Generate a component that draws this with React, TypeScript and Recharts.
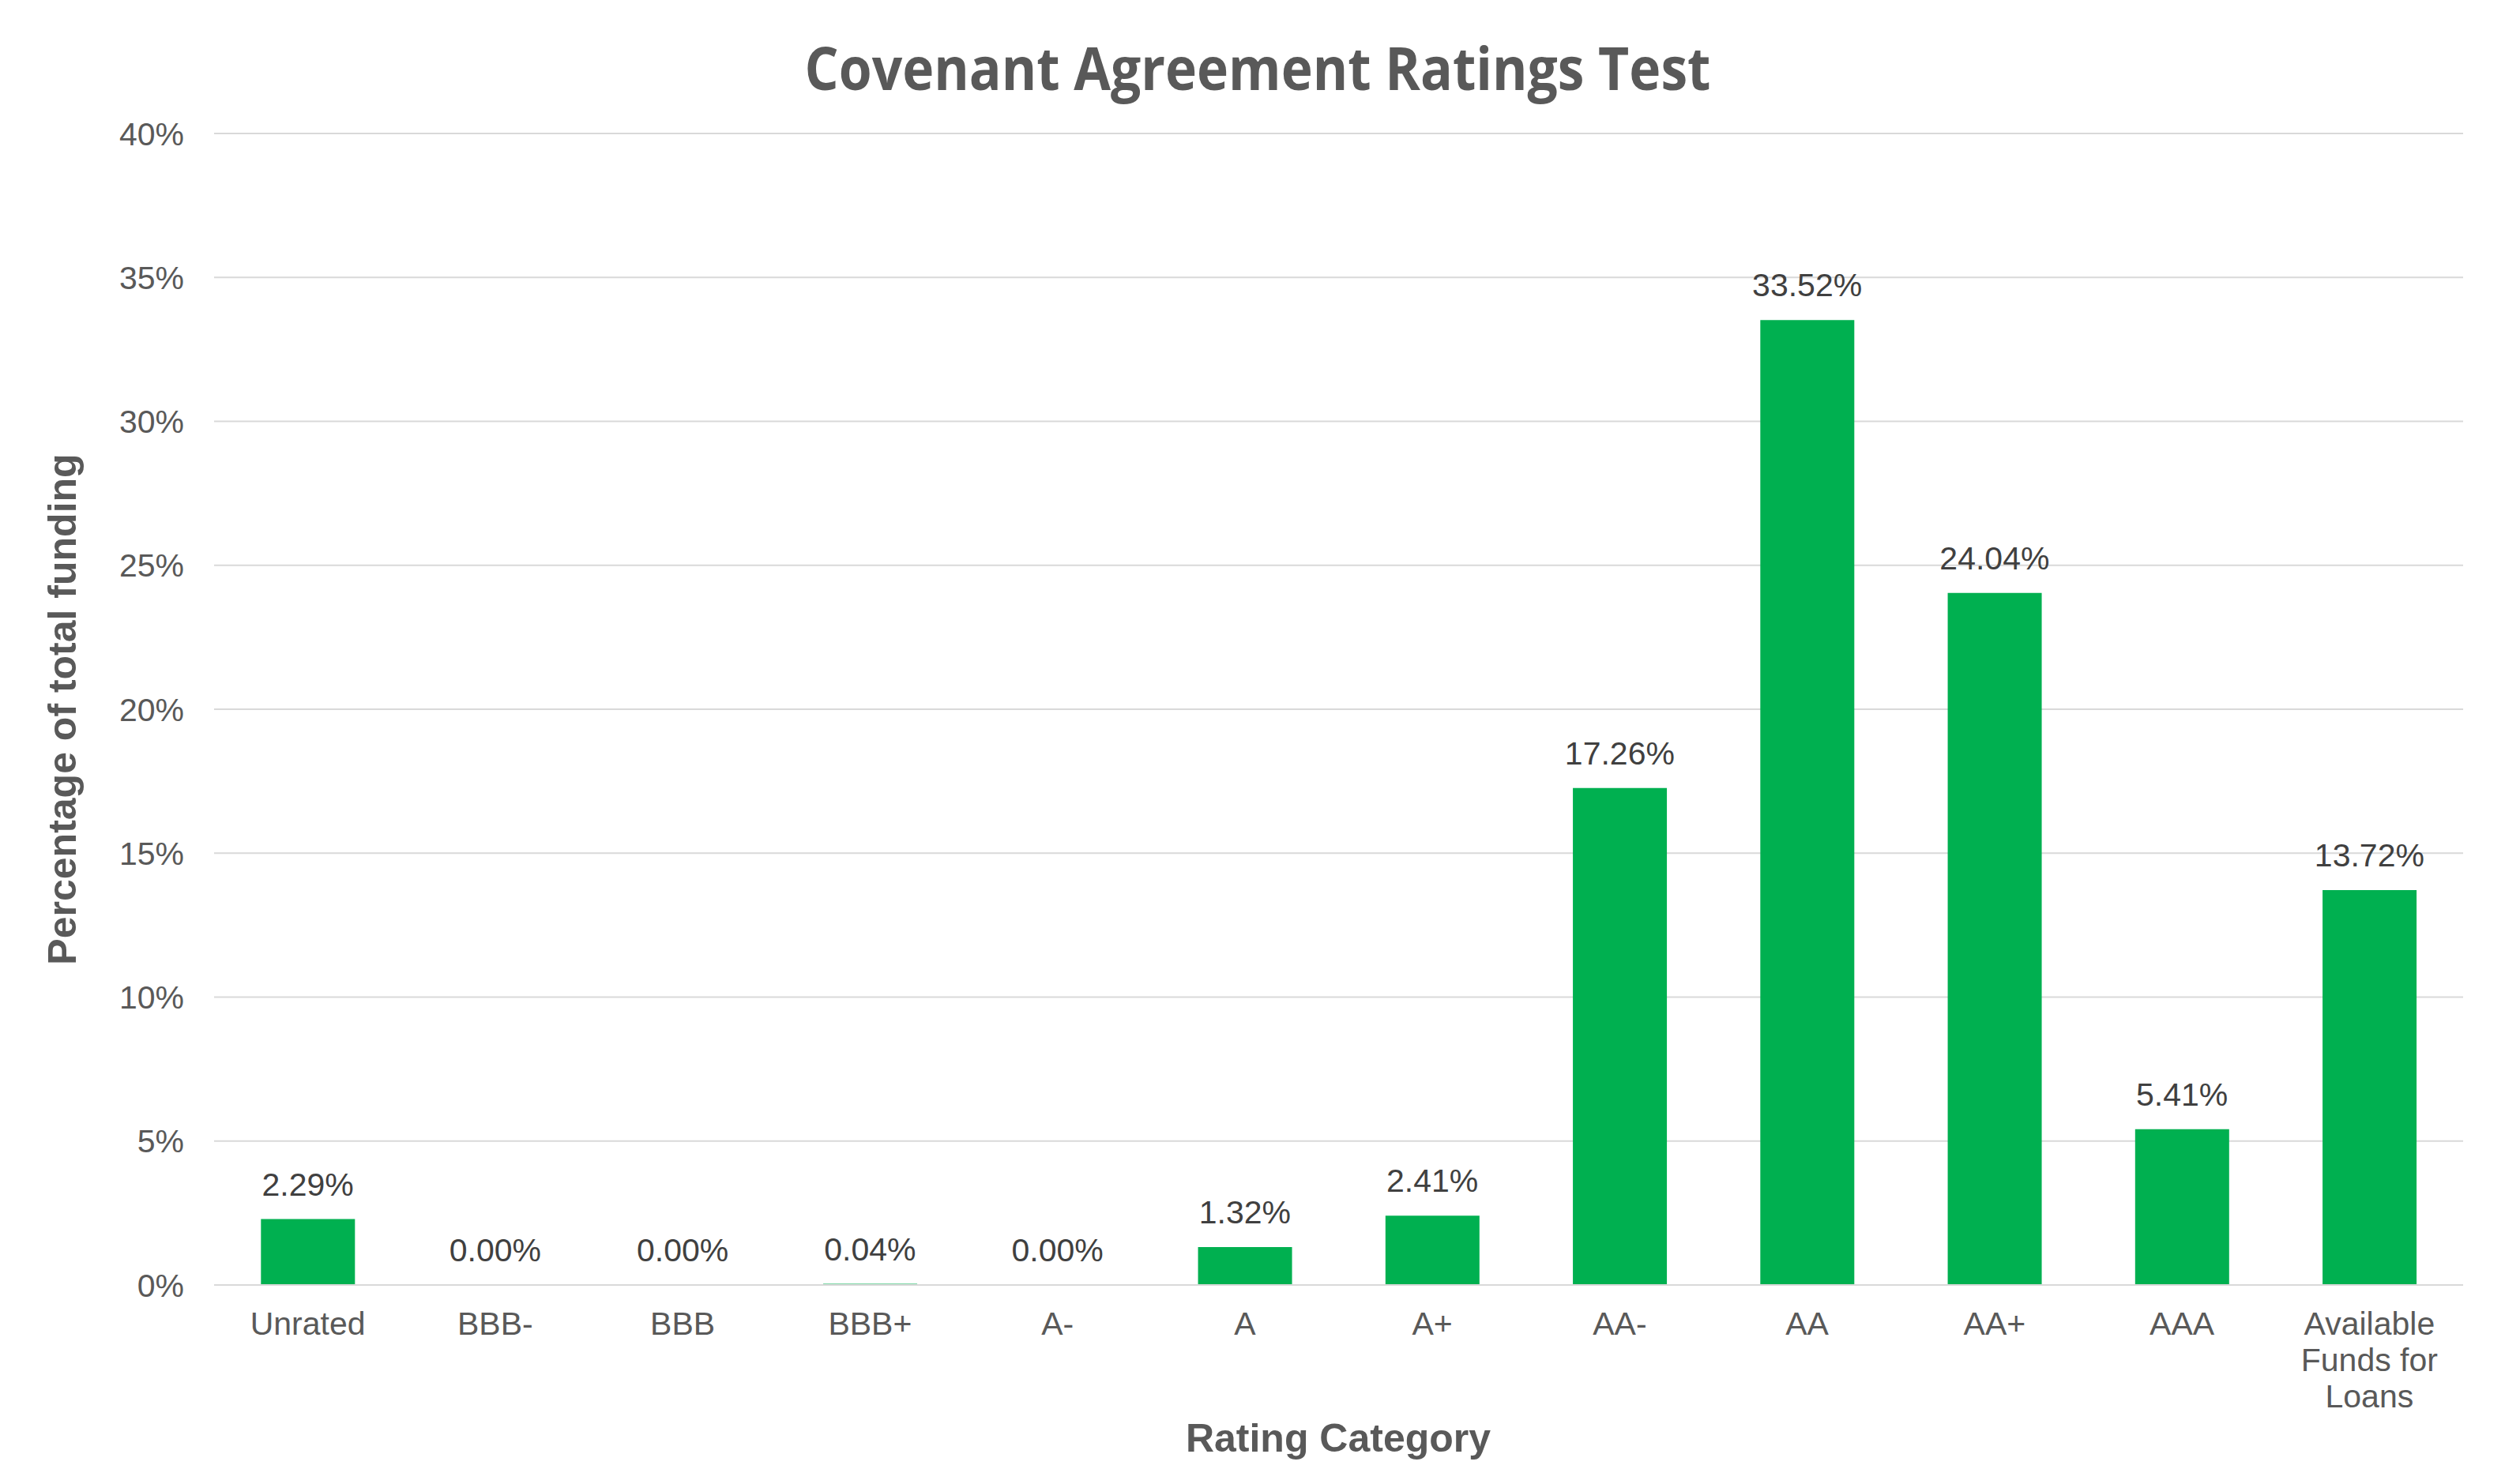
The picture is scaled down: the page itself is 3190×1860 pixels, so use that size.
import { ComposedChart, Bar, Line, XAxis, YAxis, CartesianGrid, LabelList } from "recharts"

const CATEGORIES = ["Unrated", "BBB-", "BBB", "BBB+", "A-", "A", "A+", "AA-", "AA", "AA+", "AAA", "Available Funds for Loans"]
const SHARE_PCT = [2.29, 0.0, 0.0, 0.04, 0.0, 1.32, 2.41, 17.26, 33.52, 24.04, 5.41, 13.72]
const Y_TICKS = [0, 5, 10, 15, 20, 25, 30, 35, 40]

const TITLE = "Covenant Agreement Ratings Test"
const X_TITLE = "Rating Category"
const Y_TITLE = "Percentage of total funding"

const W = 3190
const H = 1860
const AXIS_FONT = "'Liberation Sans', Arial, sans-serif"

const data = CATEGORIES.map((name, i) => ({ name, value: SHARE_PCT[i] }))

// greedy word wrap, ~10 chars a line
function wrap(label: string, max = 10) {
  const lines: string[] = []
  let cur = ""
  for (const w of label.split(" ")) {
    const next = cur ? cur + " " + w : w
    if (next.length > max && cur) {
      lines.push(cur)
      cur = w
    } else {
      cur = next
    }
  }
  if (cur) lines.push(cur)
  return lines
}

function CategoryTick(props: any) {
  const { x, y, payload } = props
  const lines = wrap(String(payload.value))
  return (
    <text
      x={x}
      y={y + 63}
      textAnchor="middle"
      fill="#595959"
      fontSize={41}
      fontFamily={AXIS_FONT}
    >
      {lines.map((l, i) => (
        <tspan key={i} x={x} dy={i === 0 ? 0 : 46}>
          {l}
        </tspan>
      ))}
    </text>
  )
}

export default function App() {
  return (
    <div style={{ position: "absolute", left: 0, top: 0, width: W, height: H, background: "#fff" }}>
      <ComposedChart
        width={W}
        height={H}
        data={data}
        margin={{ top: 169, right: 72, bottom: 0, left: 120 }}
        barCategoryGap="25%"
      >
        <CartesianGrid vertical={false} stroke="#D9D9D9" strokeWidth={2} />
        <YAxis
          width={151}
          domain={[0, 40]}
          ticks={Y_TICKS}
          axisLine={false}
          tickLine={false}
          tickSize={0}
          tickMargin={38}
          tickFormatter={(v: number) => `${v}%`}
          tick={{ fill: "#595959", fontSize: 41, fontFamily: AXIS_FONT }}
        />
        <Bar dataKey="value" fill="#00B050" isAnimationActive={false} />
        <XAxis
          dataKey="name"
          axisLine={{ stroke: "#D9D9D9", strokeWidth: 2 }}
          tickLine={false}
          tickSize={0}
          tickMargin={0}
          height={233}
          interval={0}
          tick={<CategoryTick />}
        />
        <Line
          dataKey="value"
          stroke="none"
          dot={false}
          activeDot={false}
          isAnimationActive={false}
        >
          <LabelList
            dataKey="value"
            position="top"
            offset={30}
            formatter={(v: number) => `${Number(v).toFixed(2)}%`}
            fill="#404040"
            fontSize={41}
            fontFamily={AXIS_FONT}
          />
        </Line>
      </ComposedChart>
      <svg
        width={W}
        height={H}
        style={{ position: "absolute", left: 0, top: 0, pointerEvents: "none" }}
      >
        <text
          x={1592}
          y={114}
          textAnchor="middle"
          fontFamily="'Open Sans', sans-serif"
          fontWeight={700}
          fontSize={76}
          fill="#595959"
          textLength={1147}
          lengthAdjust="spacingAndGlyphs"
        >
          {TITLE}
        </text>
        <text
          x={1694}
          y={1838}
          textAnchor="middle"
          fontFamily={AXIS_FONT}
          fontWeight={700}
          fontSize={50}
          fill="#595959"
        >
          {X_TITLE}
        </text>
        <text
          x={96}
          y={898}
          transform="rotate(-90 96 898)"
          textAnchor="middle"
          fontFamily={AXIS_FONT}
          fontWeight={700}
          fontSize={50}
          fill="#595959"
        >
          {Y_TITLE}
        </text>
      </svg>
    </div>
  )
}
